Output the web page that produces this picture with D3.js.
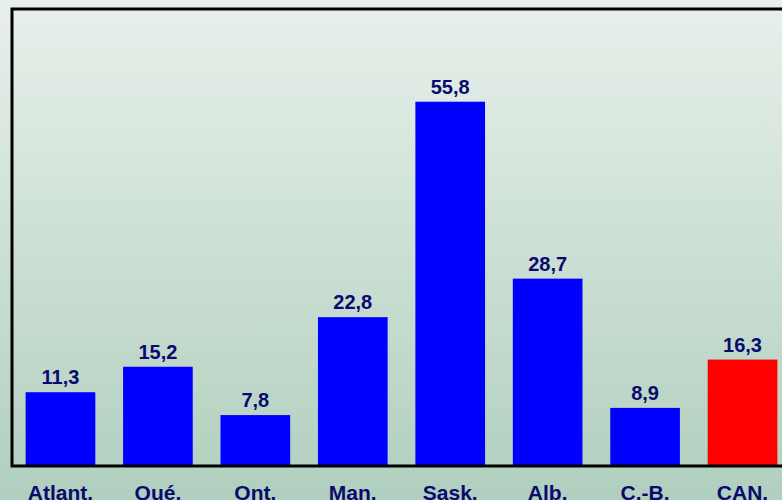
<!DOCTYPE html>
<html>
<head>
<meta charset="utf-8">
<script src="https://cdn.jsdelivr.net/npm/d3@7"></script>
<style>
  body { margin: 0; overflow: hidden; }
  text { font-family: "Liberation Sans", Arial, sans-serif; font-weight: bold; fill: #0a0a6e; }
</style>
</head>
<body>
<div id="chart"></div>
<script>
var categories = ["Atlant.", "Qué.", "Ont.", "Man.", "Sask.", "Alb.", "C.-B.", "CAN."];
var values = [11.3, 15.2, 7.8, 22.8, 55.8, 28.7, 8.9, 16.3];
var highlight = ["CAN."];

var W = 782, H = 500;
var plot = {left: 12, top: 9, right: 791, bottom: 466};

var svg = d3.select("#chart").append("svg")
  .attr("width", W)
  .attr("height", H);

var grad = svg.append("defs").append("linearGradient")
  .attr("id", "bg")
  .attr("x1", 0).attr("y1", 0).attr("x2", 0).attr("y2", 1);
grad.append("stop").attr("offset", "0%").attr("stop-color", "#e8f0eb");
grad.append("stop").attr("offset", "100%").attr("stop-color", "#b0cfbe");

svg.append("rect")
  .attr("width", W).attr("height", H)
  .attr("fill", "url(#bg)");

var x = d3.scaleBand()
  .domain(categories)
  .range([plot.left, plot.right])
  .paddingInner(0.285)
  .paddingOuter(0.14);

var y = d3.scaleLinear()
  .domain([0, 70])
  .range([plot.bottom, plot.top]);

var data = categories.map(function(c, i) { return {cat: c, value: values[i]}; });

svg.selectAll(".bar")
  .data(data)
  .enter().append("rect")
  .attr("class", "bar")
  .attr("x", function(d) { return x(d.cat); })
  .attr("y", function(d) { return y(d.value); })
  .attr("width", x.bandwidth())
  .attr("height", function(d) { return y(0) - y(d.value); })
  .attr("fill", function(d) { return highlight.indexOf(d.cat) >= 0 ? "#ff0000" : "#0000ff"; });

svg.selectAll(".val")
  .data(data)
  .enter().append("text")
  .attr("class", "val")
  .attr("x", function(d) { return x(d.cat) + x.bandwidth() / 2; })
  .attr("y", function(d) { return y(d.value) - 8; })
  .attr("text-anchor", "middle")
  .attr("font-size", 20)
  .text(function(d) { return d3.format(".1f")(d.value).replace(".", ","); });

// frame: left, top and bottom axis lines
svg.append("path")
  .attr("d", "M" + W + "," + plot.top + "H" + plot.left + "V" + plot.bottom + "H" + W)
  .attr("fill", "none")
  .attr("stroke", "#000")
  .attr("stroke-width", 3);

var xAxis = svg.append("g")
  .attr("transform", "translate(0," + plot.bottom + ")")
  .call(d3.axisBottom(x).tickSize(0).tickPadding(19));
xAxis.select(".domain").remove();
xAxis.selectAll("text")
  .attr("font-size", 21)
  .style("font-family", "'Liberation Sans', Arial, sans-serif")
  .style("font-weight", "bold")
  .attr("fill", "#0a0a6e");
</script>
</body>
</html>
